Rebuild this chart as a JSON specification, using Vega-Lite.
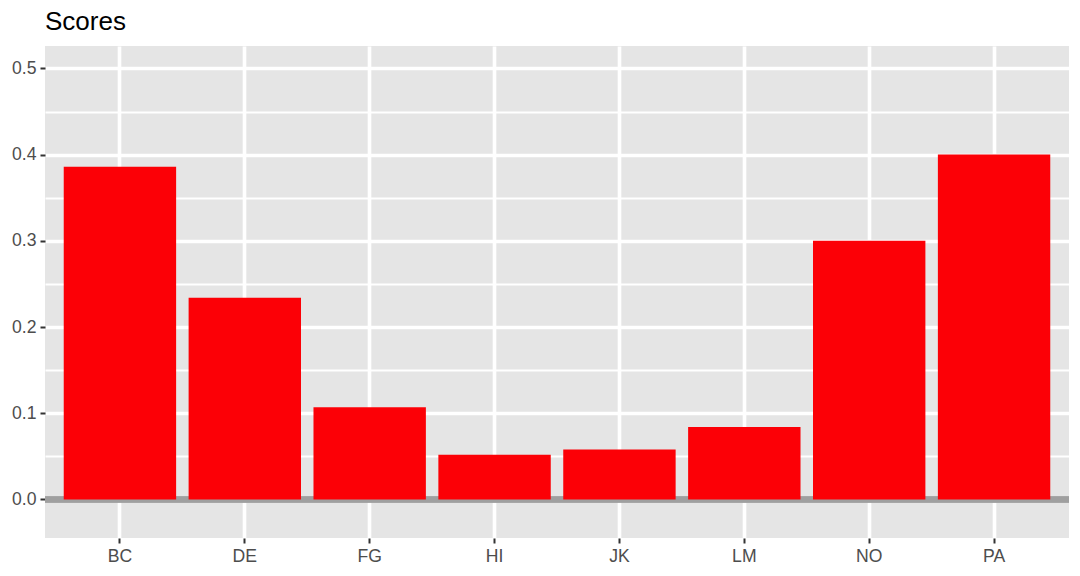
{
  "$schema": "https://vega.github.io/schema/vega-lite/v6.json",
  "width": 1024,
  "height": 492,
  "autosize": {"type": "none"},
  "padding": {"left": 45, "top": 46, "right": 11, "bottom": 38},
  "title": {
    "text": "Scores",
    "anchor": "start",
    "frame": "group",
    "baseline": "alphabetic",
    "offset": -10,
    "font": "Liberation Sans",
    "fontSize": 26,
    "fontWeight": "normal",
    "color": "#000000"
  },
  "config": {
    "view": {"fill": "#E5E5E5", "stroke": null},
    "font": "Liberation Sans",
    "axis": {
      "domain": false,
      "labelFont": "Liberation Sans",
      "labelFontSize": 17.6,
      "labelColor": "#4D4D4D",
      "tickColor": "#333333",
      "tickWidth": 2,
      "tickSize": 5,
      "gridColor": "#FFFFFF",
      "gridOpacity": 1,
      "title": null
    }
  },
  "data": {
    "values": [
      {"code": "BC", "score": 0.386},
      {"code": "DE", "score": 0.234},
      {"code": "FG", "score": 0.107},
      {"code": "HI", "score": 0.052},
      {"code": "JK", "score": 0.058},
      {"code": "LM", "score": 0.084},
      {"code": "NO", "score": 0.300},
      {"code": "PA", "score": 0.400}
    ]
  },
  "layer": [
    {
      "mark": {"type": "rule", "color": "#9F9F9F", "strokeWidth": 5.5},
      "encoding": {
        "y": {"datum": 0, "type": "quantitative", "scale": {"domain": [-0.0447, 0.526], "nice": false, "zero": false}}
      }
    },
    {
      "mark": {"type": "bar", "color": "#FC0006"},
      "encoding": {
        "x": {
          "field": "code",
          "type": "nominal",
          "sort": null,
          "scale": {"paddingInner": 0.1, "paddingOuter": 0.15},
          "axis": {
            "grid": true,
            "gridWidth": 3.6,
            "bandPosition": 0.5,
            "labelAngle": 0,
            "labelPadding": 4
          }
        },
        "y": {
          "field": "score",
          "type": "quantitative",
          "scale": {"domain": [-0.0447, 0.526], "nice": false, "zero": false},
          "axis": {
            "values": [0, 0.05, 0.1, 0.15, 0.2, 0.25, 0.3, 0.35, 0.4, 0.45, 0.5],
            "labelExpr": "round(datum.value * 100) % 10 == 0 ? format(datum.value, '.1f') : ''",
            "labelPadding": 4,
            "grid": true,
            "gridWidth": {"condition": {"test": "round(datum.value * 100) % 10 == 0", "value": 3.6}, "value": 1.8},
            "tickOpacity": {"condition": {"test": "round(datum.value * 100) % 10 == 0", "value": 1}, "value": 0}
          }
        }
      }
    }
  ]
}
